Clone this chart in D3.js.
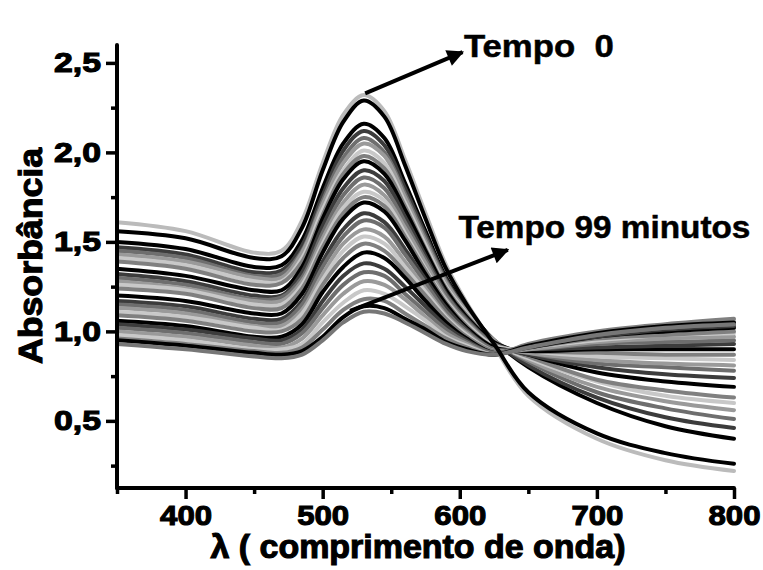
<!DOCTYPE html>
<html><head><meta charset="utf-8">
<script src="https://cdn.jsdelivr.net/npm/d3@7"></script>
<style>
body{margin:0;background:#fff}
svg{display:block}
text{font-family:"Liberation Sans",Arial,sans-serif;font-weight:bold;fill:#000}
</style>
</head><body>
<svg id="chart" width="763" height="570"></svg>
<script>
const wavelengths = [350,400,450,470,485,500,515,530,545,560,575,590,605,625,650,700,750,800];

const s00 = [1.61,1.56,1.44,1.45,1.62,1.94,2.21,2.32,2.23,1.96,1.66,1.37,1.16,0.92,0.64,0.40,0.28,0.22];
const s01 = [1.56,1.52,1.41,1.42,1.58,1.90,2.17,2.29,2.20,1.93,1.63,1.35,1.15,0.93,0.66,0.43,0.32,0.26];
const s02 = [1.50,1.46,1.36,1.37,1.51,1.80,2.05,2.16,2.08,1.83,1.56,1.30,1.13,0.95,0.80,0.60,0.47,0.40];
const s03 = [1.47,1.43,1.33,1.34,1.48,1.76,2.01,2.12,2.04,1.80,1.54,1.29,1.12,0.95,0.81,0.63,0.52,0.46];
const s04 = [1.45,1.41,1.31,1.32,1.45,1.73,1.97,2.08,2.00,1.77,1.52,1.28,1.11,0.95,0.83,0.66,0.57,0.51];
const s05 = [1.43,1.39,1.30,1.30,1.44,1.71,1.94,2.05,1.98,1.75,1.50,1.27,1.11,0.95,0.84,0.69,0.61,0.56];
const s06 = [1.41,1.37,1.28,1.28,1.41,1.68,1.90,2.01,1.94,1.72,1.48,1.25,1.10,0.94,0.85,0.72,0.64,0.60];
const s07 = [1.39,1.35,1.26,1.27,1.39,1.65,1.88,1.98,1.91,1.70,1.46,1.24,1.09,0.94,0.86,0.73,0.67,0.63];
const s08 = [1.35,1.31,1.23,1.23,1.36,1.63,1.85,1.95,1.88,1.68,1.45,1.23,1.08,0.94,0.87,0.77,0.72,0.69];
const s09 = [1.32,1.28,1.20,1.20,1.33,1.59,1.80,1.90,1.84,1.64,1.42,1.21,1.07,0.93,0.87,0.80,0.76,0.74];
const s10 = [1.30,1.26,1.18,1.19,1.30,1.55,1.76,1.86,1.80,1.61,1.40,1.20,1.06,0.93,0.88,0.82,0.80,0.78];
const s11 = [1.28,1.24,1.17,1.17,1.28,1.52,1.72,1.82,1.76,1.58,1.38,1.18,1.05,0.92,0.88,0.84,0.82,0.81];
const s12 = [1.26,1.23,1.15,1.15,1.26,1.49,1.69,1.78,1.73,1.55,1.35,1.17,1.04,0.92,0.89,0.86,0.85,0.84];
const s13 = [1.24,1.21,1.13,1.13,1.24,1.47,1.66,1.75,1.70,1.53,1.34,1.16,1.03,0.91,0.89,0.88,0.87,0.87];
const s14 = [1.20,1.17,1.10,1.10,1.21,1.44,1.63,1.72,1.67,1.51,1.32,1.15,1.02,0.91,0.89,0.90,0.90,0.90];
const s15 = [1.17,1.14,1.07,1.07,1.17,1.39,1.57,1.66,1.61,1.46,1.29,1.13,1.01,0.90,0.90,0.91,0.92,0.93];
const s16 = [1.15,1.12,1.05,1.05,1.15,1.36,1.53,1.62,1.58,1.43,1.27,1.11,1.00,0.90,0.90,0.93,0.94,0.95];
const s17 = [1.13,1.10,1.03,1.03,1.12,1.32,1.49,1.57,1.53,1.39,1.24,1.09,0.99,0.89,0.90,0.94,0.96,0.97];
const s18 = [1.11,1.08,1.02,1.01,1.10,1.29,1.45,1.53,1.49,1.36,1.22,1.08,0.98,0.89,0.91,0.95,0.98,0.99];
const s19 = [1.09,1.06,1.00,1.00,1.07,1.26,1.41,1.49,1.45,1.33,1.20,1.07,0.97,0.89,0.91,0.96,0.98,1.00];
const s20 = [1.06,1.03,0.97,0.97,1.04,1.22,1.36,1.44,1.41,1.30,1.17,1.05,0.96,0.88,0.91,0.97,1.00,1.02];
const s21 = [1.04,1.01,0.96,0.95,1.01,1.17,1.31,1.38,1.35,1.25,1.14,1.03,0.95,0.88,0.92,0.97,1.01,1.03];
const s22 = [1.02,0.99,0.94,0.93,0.99,1.13,1.26,1.33,1.31,1.21,1.11,1.01,0.94,0.88,0.92,0.98,1.02,1.04];
const s23 = [1.00,0.97,0.92,0.91,0.96,1.09,1.21,1.28,1.26,1.18,1.08,0.99,0.93,0.87,0.92,0.99,1.03,1.05];
const s24 = [0.98,0.95,0.90,0.90,0.93,1.05,1.16,1.23,1.21,1.14,1.06,0.97,0.92,0.87,0.92,0.99,1.03,1.06];
const s25 = [0.96,0.93,0.89,0.88,0.91,1.01,1.12,1.18,1.17,1.10,1.03,0.96,0.91,0.87,0.93,1.00,1.04,1.07];
const s26 = [0.95,0.92,0.88,0.87,0.89,0.97,1.08,1.14,1.13,1.07,1.01,0.94,0.90,0.87,0.92,0.99,1.03,1.05];
const s27 = [0.93,0.90,0.86,0.85,0.87,0.95,1.05,1.11,1.10,1.05,0.99,0.93,0.89,0.87,0.91,0.98,1.02,1.04];

const seriesList = [s00,s01,s02,s03,s04,s05,s06,s07,s08,s09,s10,s11,s12,s13,s14,s15,s16,s17,s18,s19,s20,s21,s22,s23,s24,s25,s26,s27];
const lineColors = ["#bbbbbb","#000000",
  "#000000","#3c3c3c","#6e6e6e","#9a9a9a","#c8c8c8","#808080",
  "#000000","#3c3c3c","#6e6e6e","#9a9a9a","#c8c8c8","#808080",
  "#000000","#3c3c3c","#6e6e6e","#9a9a9a","#c8c8c8","#808080",
  "#000000","#3c3c3c","#6e6e6e","#9a9a9a","#c8c8c8","#808080",
  "#000000","#777777"];
const drawOrder = [0,2,3,4,5,6,7,8,9,10,11,12,13,14,15,16,17,18,19,20,21,22,23,24,25,26,27,1];

const xTicks = [400,500,600,700,800];
const xMinorTicks = [350,450,550,650,750];
const yTicks = [0.5,1.0,1.5,2.0,2.5];
const yMinorTicks = [0.25,0.75,1.25,1.75,2.25];
const xTitle = "\u03bb ( comprimento de onda)";
const yTitle = "Absorb\u00e2ncia";
const annotationTexts = ["Tempo  0","Tempo 99 minutos"];
const annotationWidths = [150, 292];
const arrowFrom = [[531,2.33],[520,1.115]];
const arrowTo = [[602,2.56],[635,1.455]];
const textAt = [[603,2.535],[599,1.52]];

const svg = d3.select("#chart");
const x = d3.scaleLinear().domain([350,800]).range([117,734]);
const y = d3.scaleLinear().domain([0.125,2.6]).range([488,45]);
const fmt = v => d3.format(".1f")(v).replace(".", ",");

// curves
const line = d3.line().x((d,i)=>x(wavelengths[i])).y(d=>y(d)).curve(d3.curveCatmullRom.alpha(0.5));
const gCurves = svg.append("g");
drawOrder.forEach(k=>{
  gCurves.append("path").attr("d", line(seriesList[k]))
    .attr("fill","none").attr("stroke", lineColors[k])
    .attr("stroke-width", 4).attr("stroke-linejoin","round").attr("stroke-linecap","round");
});

// axes
const axisG = svg.append("g");
axisG.append("line").attr("x1",x(350)).attr("x2",x(350)).attr("y1",y(2.6)).attr("y2",y(0.125))
  .attr("stroke","#000").attr("stroke-width",4).attr("stroke-linecap","round");
axisG.append("line").attr("x1",x(350)).attr("x2",x(800)).attr("y1",y(0.125)).attr("y2",y(0.125))
  .attr("stroke","#000").attr("stroke-width",4).attr("stroke-linecap","round");

const styleTickText = (sel, w) => sel.attr("font-size",28).attr("stroke","#000").attr("stroke-width",1.1)
  .attr("font-family","Liberation Sans, Arial, sans-serif").attr("font-weight","bold").attr("fill","#000")
  .attr("textLength",w).attr("lengthAdjust","spacingAndGlyphs");

const xAxis = d3.axisBottom(x).tickValues(xTicks).tickSize(11).tickPadding(6).tickFormat(d3.format("d"));
const gx = svg.append("g").attr("transform",`translate(0,${y(0.125)})`).call(xAxis);
gx.select(".domain").remove();
gx.selectAll(".tick line").attr("stroke","#000").attr("stroke-width",3.5);
styleTickText(gx.selectAll(".tick text"), 52);
const xAxisMinor = d3.axisBottom(x).tickValues(xMinorTicks).tickSize(6).tickFormat("");
const gxm = svg.append("g").attr("transform",`translate(0,${y(0.125)})`).call(xAxisMinor);
gxm.select(".domain").remove();
gxm.selectAll(".tick line").attr("stroke","#000").attr("stroke-width",3.5);

const yAxis = d3.axisLeft(y).tickValues(yTicks).tickSize(11).tickPadding(5).tickFormat(fmt);
const gy = svg.append("g").attr("transform",`translate(${x(350)},0)`).call(yAxis);
gy.select(".domain").remove();
gy.selectAll(".tick line").attr("stroke","#000").attr("stroke-width",3.5);
styleTickText(gy.selectAll(".tick text"), 47);
const yAxisMinor = d3.axisLeft(y).tickValues(yMinorTicks).tickSize(6).tickFormat("");
const gym = svg.append("g").attr("transform",`translate(${x(350)},0)`).call(yAxisMinor);
gym.select(".domain").remove();
gym.selectAll(".tick line").attr("stroke","#000").attr("stroke-width",3.5);

// titles
svg.append("text").attr("x",418).attr("y",558).attr("text-anchor","middle")
  .attr("font-size",33).attr("stroke","#000").attr("stroke-width",1.1)
  .attr("textLength",415).attr("lengthAdjust","spacingAndGlyphs").text(xTitle);
svg.append("text").attr("transform",`translate(42,256) rotate(-90)`).attr("text-anchor","middle")
  .attr("font-size",33).attr("stroke","#000").attr("stroke-width",1.1)
  .attr("textLength",216).attr("lengthAdjust","spacingAndGlyphs").text(yTitle);

// annotations
const defs = svg.append("defs");
defs.append("marker").attr("id","ah").attr("viewBox","0 0 10 10").attr("refX",9).attr("refY",5)
  .attr("markerWidth",6).attr("markerHeight",4.2).attr("markerUnits","strokeWidth").attr("orient","auto")
  .append("path").attr("d","M0,0 L10,5 L0,10 z").attr("fill","#000");
annotationTexts.forEach((t,i)=>{
  svg.append("line").attr("x1",x(arrowFrom[i][0])).attr("y1",y(arrowFrom[i][1]))
    .attr("x2",x(arrowTo[i][0])).attr("y2",y(arrowTo[i][1]))
    .attr("stroke","#000").attr("stroke-width",4).attr("marker-end","url(#ah)");
  svg.append("text").attr("x",x(textAt[i][0])).attr("y",y(textAt[i][1]))
    .attr("xml:space","preserve").style("white-space","pre")
    .attr("font-size",32).attr("stroke","#000").attr("stroke-width",0.5)
    .attr("textLength",annotationWidths[i]).attr("lengthAdjust","spacingAndGlyphs").text(t);
});
</script>
</body></html>
